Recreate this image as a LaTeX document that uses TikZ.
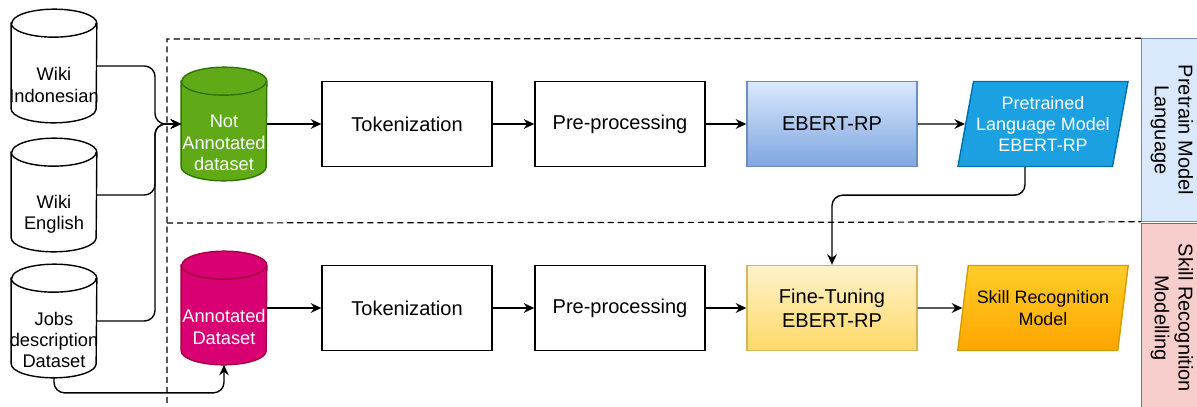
\documentclass[tikz,border=0pt]{standalone}
\usepackage{fontspec}
\setmainfont{Liberation Sans}
\usetikzlibrary{positioning, shapes.geometric, arrows.meta}

\definecolor{dbgreen}{HTML}{60A917}
\definecolor{dbgreenline}{HTML}{2D7600}
\definecolor{dbpink}{HTML}{D80073}
\definecolor{dbpinkline}{HTML}{A50040}
\definecolor{bluetop}{HTML}{DAE8FC}
\definecolor{bluebot}{HTML}{7EA6E0}
\definecolor{blueline}{HTML}{6C8EBF}
\definecolor{cyanfill}{HTML}{1BA1E2}
\definecolor{cyanline}{HTML}{006EAF}
\definecolor{yeltop}{HTML}{FFF2CC}
\definecolor{yelbot}{HTML}{FFD966}
\definecolor{yelline}{HTML}{D6B656}
\definecolor{orgtop}{HTML}{FFCD28}
\definecolor{orgbot}{HTML}{FFA500}
\definecolor{orgline}{HTML}{D79B00}
\definecolor{redfill}{HTML}{F8CECC}
\definecolor{redline}{HTML}{B85450}

% cylinder outline around a named box: #1 node, #2 fill, #3 line colour
\newcommand{\dbdraw}[3]{%
  \draw[fill=#2, draw=#3, line width=0.8pt]
    ([yshift=-0.28cm]#1.north west) -- ([yshift=0.28cm]#1.south west)
    arc[start angle=180, end angle=360, x radius=0.85cm, y radius=0.28cm]
    -- ([yshift=-0.28cm]#1.north east)
    arc[start angle=0, end angle=180, x radius=0.85cm, y radius=0.28cm] -- cycle;
  \draw[draw=#3, line width=0.8pt] ([yshift=-0.28cm]#1.north west)
    arc[start angle=180, end angle=360, x radius=0.85cm, y radius=0.28cm];
}

\begin{document}
\begin{tikzpicture}[
        x=0.02cm, y=-0.02cm,
        every node/.style={font=\fontsize{11.4}{13.5}\selectfont, align=center},
        dbbox/.style={minimum width=1.7cm, minimum height=2.26cm, inner sep=0pt},
        dbtext/.style={font=\fontsize{10.4}{12.2}\selectfont},
        stepbox/.style={draw, minimum width=3.4cm, minimum height=1.7cm, line width=0.8pt},
        result/.style={trapezium, trapezium left angle=75, trapezium right angle=105,
            trapezium stretches=true, draw, minimum width=3.42cm, minimum height=1.7cm,
            inner sep=0pt, line width=0.8pt, font=\fontsize{10.2}{12.2}\selectfont},
        side/.style={draw, rotate=-90, minimum height=1.22cm},
        arr/.style={-{Stealth[length=6pt, width=5.5pt, inset=2pt]}, line width=0.8pt, rounded corners=6pt},
        frame/.style={dash pattern=on 3.5pt off 2.2pt, line width=0.7pt}
      ]
        \useasboundingbox (0,0) rectangle (1197,406);

        % sources
        \node[dbbox] (wikiid) at (54,66) {};
        \dbdraw{wikiid}{white}{black}
        \node[dbtext] at ([yshift=-0.38cm]wikiid.center) {Wiki\\Indonesian};
        \node[dbbox] (wikien) at (54,195) {};
        \dbdraw{wikien}{white}{black}
        \node[dbtext] at ([yshift=-0.38cm]wikien.center) {Wiki\\English};
        \node[dbbox] (jobs) at (54,321) {};
        \dbdraw{jobs}{white}{black}
        \node[dbtext] at ([yshift=-0.38cm]jobs.center) {Jobs\\description\\Dataset};

        % pretraining row
        \node[dbbox] (notann) at (224,124) {};
        \dbdraw{notann}{dbgreen}{dbgreenline}
        \node[dbtext, text=white] at ([yshift=-0.38cm]notann.center) {Not\\Annotated\\dataset};
        \node[stepbox] (tok1) at (407,124) {Tokenization};
        \node[stepbox] (pre1) at (620,124) {Pre-processing};
        \node[stepbox, top color=bluetop, bottom color=bluebot, draw=blueline] (ebert) at (832,124) {EBERT-RP};
        \node[result, fill=cyanfill, draw=cyanline, text=white] (plm) at (1043,124) {Pretrained\\Language Model\\EBERT-RP};

        % fine-tuning row
        \node[dbbox] (annot) at (224,308) {};
        \dbdraw{annot}{dbpink}{dbpinkline}
        \node[dbtext, text=white] at ([yshift=-0.38cm]annot.center) {Annotated\\Dataset};
        \node[stepbox] (tok2) at (407,308) {Tokenization};
        \node[stepbox] (pre2) at (620,308) {Pre-processing};
        \node[stepbox, top color=yeltop, bottom color=yelbot, draw=yelline] (fine) at (832,308) {Fine-Tuning\\EBERT-RP};
        \node[result, top color=orgtop, bottom color=orgbot, draw=orgline] (skill) at (1043,308) {Skill Recognition\\Model};

        % stage labels
        \node[side, fill=bluetop, draw=blueline, minimum width=3.66cm] (lblpre) at (1172,130) {Pretrain Model\\Language};
        \node[side, fill=redfill, draw=redline, minimum width=3.8cm] (lblskill) at (1172,318) {Skill Recognition\\Modelling};

        % dashed frame
        \draw[frame] (lblpre.south west) -- (167,39) -- (167,406);
        \draw[frame] (167,223) -- (lblpre.south east);

        \coordinate (merge) at (155,124);
        \draw[arr] (wikiid.east) -| (merge) -- (notann.west);
        \draw[arr] (wikien.east) -| (merge) -- (notann.west);
        \draw[arr] (jobs.east) -| (merge) -- (notann.west);
        \draw[arr] (jobs.south) -- ++(0,15) -| (annot.south);

        \draw[arr] (notann) -- (tok1);
        \draw[arr] (tok1) -- (pre1);
        \draw[arr] (pre1) -- (ebert);
        \draw[arr] (ebert) -- (plm);
        \draw[arr] ([xshift=-0.36cm]plm.south) -- ++(0,28) -| (fine.north);

        \draw[arr] (annot) -- (tok2);
        \draw[arr] (tok2) -- (pre2);
        \draw[arr] (pre2) -- (fine);
        \draw[arr] (fine) -- (skill);
      \end{tikzpicture}
\end{document}
